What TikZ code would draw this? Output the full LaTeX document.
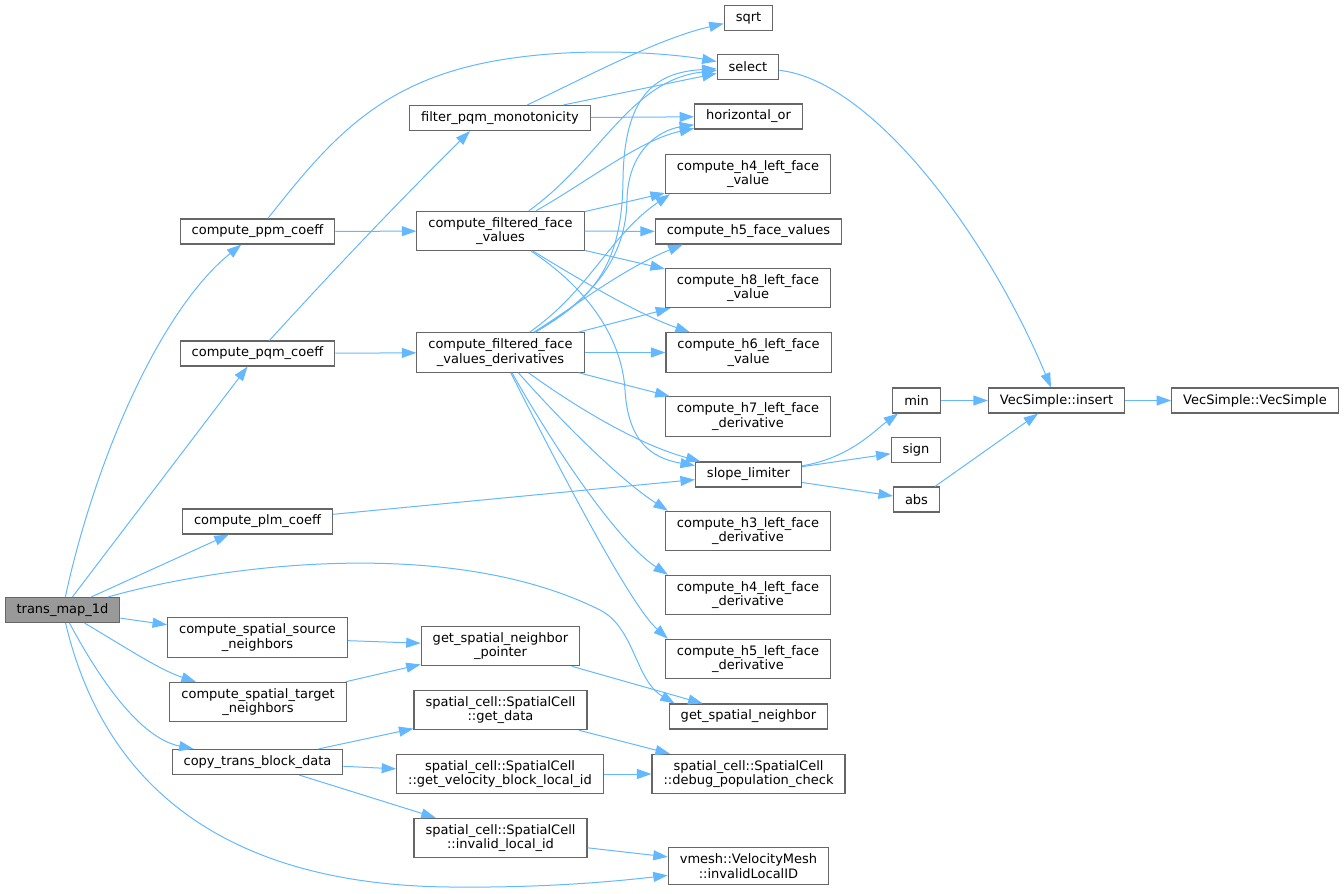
\documentclass[tikz,border=0pt]{standalone}
\usepackage{fontspec}
\setmainfont{DejaVu Sans}
\usetikzlibrary{arrows.meta,positioning,calc}
\definecolor{edgeblue}{HTML}{63B8FF}
\definecolor{boxgray}{HTML}{666666}
\definecolor{rootgray}{HTML}{999999}
\tikzset{
  fn/.style={draw=boxgray, line width=1.1pt, fill=white, font=\fontsize{13pt}{14.5pt}\selectfont,
    inner xsep=11.5pt, inner ysep=6pt, minimum height=25pt, align=center},
  rootfn/.style={fn, fill=rootgray},
  call/.style={edgeblue, line width=1pt, -{Triangle[length=14.5pt,width=10pt]}},
}

\begin{document}
\begin{tikzpicture}[x=1pt,y=-1pt]
    \useasboundingbox (0,0) rectangle (1344,894);

    % Callers
    \node[rootfn] (tm) at (62.5,610) {trans\_map\_1d};
    \node[fn] (ppm) at (257.5,231.5) {compute\_ppm\_coeff};
    \node[fn] (pqm) at (257.5,353.5) {compute\_pqm\_coeff};
    \node[fn] (plm) at (257.5,521.5) {compute\_plm\_coeff};
    \node[fn] (srcn) at (257.5,637.5) {compute\_spatial\_source\\\_neighbors};
    \node[fn] (tgtn) at (258,702) {compute\_spatial\_target\\\_neighbors};
    \node[fn] (copy) at (257.5,762) {copy\_trans\_block\_data};

    % Second column
    \node[fn] (filt) at (500,118) {filter\_pqm\_monotonicity};
    \node[fn] (cffv) at (500.5,231) {compute\_filtered\_face\\\_values};
    \node[fn] (cffvd) at (500.5,352.5) {compute\_filtered\_face\\\_values\_derivatives};
    \node[fn] (gsnp) at (500.5,646) {get\_spatial\_neighbor\\\_pointer};
    \node[fn] (gdata) at (500.5,710) {spatial\_cell::SpatialCell\\::get\_data};
    \node[fn] (gvel) at (500,774) {spatial\_cell::SpatialCell\\::get\_velocity\_block\_local\_id};
    \node[fn] (invid) at (500.5,838) {spatial\_cell::SpatialCell\\::invalid\_local\_id};

    % Third column
    \node[fn] (sqrt) at (748.5,18) {sqrt};
    \node[fn] (select) at (748,67) {select};
    \node[fn] (hor) at (748.5,116.5) {horizontal\_or};
    \node[fn] (h4v) at (748,174) {compute\_h4\_left\_face\\\_value};
    \node[fn] (h5fv) at (748.5,231.5) {compute\_h5\_face\_values};
    \node[fn] (h8v) at (748,288) {compute\_h8\_left\_face\\\_value};
    \node[fn] (h6v) at (748.5,352.5) {compute\_h6\_left\_face\\\_value};
    \node[fn] (h7d) at (748,416.5) {compute\_h7\_left\_face\\\_derivative};
    \node[fn] (slope) at (748.5,474.5) {slope\_limiter};
    \node[fn] (h3d) at (748,531) {compute\_h3\_left\_face\\\_derivative};
    \node[fn] (h4d) at (748,595) {compute\_h4\_left\_face\\\_derivative};
    \node[fn] (h5d) at (748,659) {compute\_h5\_left\_face\\\_derivative};
    \node[fn] (gsn) at (748.5,716.5) {get\_spatial\_neighbor};
    \node[fn] (dbg) at (748.5,774) {spatial\_cell::SpatialCell\\::debug\_population\_check};
    \node[fn] (vmesh) at (748.5,866) {vmesh::VelocityMesh\\::invalidLocalID};

    % Right part
    \node[fn] (min) at (916.5,400.5) {min};
    \node[fn] (sign) at (916,450) {sign};
    \node[fn] (abs) at (916.5,499.5) {abs};
    \node[fn] (ins) at (1056.5,400.5) {VecSimple::insert};
    \node[fn] (vecs) at (1255,400.5) {VecSimple::VecSimple};

    % Calls from trans_map_1d
    \draw[call] (tm) .. controls (95,460) and (160,310) .. (ppm);
    \draw[call] (tm) -- (pqm);
    \draw[call] (tm) -- (plm);
    \draw[call] (tm) .. controls (220,565) and (450,535) .. (600,610)
        .. controls (635,628) and (635,680) .. ([xshift=6pt]gsn.north west);
    \draw[call] (tm) -- (srcn);
    \draw[call] (tm) .. controls (130,650) and (160,670) .. (tgtn);
    \draw[call] (tm) .. controls (100,680) and (140,738) .. (copy);
    \draw[call] (tm) .. controls (105,790) and (230,885) .. (450,887)
        .. controls (540,888) and (610,882) .. (vmesh);

    % First level
    \draw[call] (ppm) .. controls (330,140) and (380,80) .. (500,60)
        .. controls (590,45) and (680,55) .. (select);
    \draw[call] (ppm) -- (cffv);
    \draw[call] (pqm) .. controls (320,285) and (390,210) .. ([xshift=-30pt]filt.south);
    \draw[call] (pqm) -- (cffvd);
    \draw[call] (plm) -- (slope);
    \draw[call] (srcn) -- (gsnp);
    \draw[call] (tgtn) -- (gsnp);
    \draw[call] (copy) -- (gdata);
    \draw[call] (copy) -- (gvel);
    \draw[call] (copy) -- (invid);

    % filter_pqm_monotonicity
    \draw[call] (filt) .. controls (590,75) and (660,38) .. (sqrt);
    \draw[call] (filt) -- (select);
    \draw[call] (filt) -- (hor);

    % compute_filtered_face_values
    \draw[call] (cffv) .. controls (600,160) and (630,80) .. (select);
    \draw[call] (cffv) .. controls (590,180) and (640,140) .. (hor);
    \draw[call] (cffv) -- (h4v);
    \draw[call] (cffv) -- (h5fv);
    \draw[call] (cffv) -- (h8v);
    \draw[call] (cffv) .. controls (580,280) and (640,315) .. (h6v);
    \draw[call] (cffv) .. controls (590,290) and (622,340) .. (625,390)
        .. controls (628,440) and (650,458) .. (slope);

    % compute_filtered_face_values_derivatives
    \draw[call] (cffvd) .. controls (590,300) and (622,270) .. (623,180)
        .. controls (624,90) and (660,72) .. (select);
    \draw[call] (cffvd) .. controls (590,300) and (626,260) .. (627,200)
        .. controls (628,150) and (660,130) .. (hor);
    \draw[call] (cffvd) .. controls (590,290) and (610,235) .. ([xshift=5pt]h4v.south west);
    \draw[call] (cffvd) .. controls (570,310) and (620,270) .. ([xshift=28pt]h5fv.south west);
    \draw[call] (cffvd) -- (h8v);
    \draw[call] (cffvd) -- (h6v);
    \draw[call] (cffvd) -- (h7d);
    \draw[call] (cffvd) .. controls (580,410) and (640,445) .. (slope);
    \draw[call] (cffvd) .. controls (560,420) and (620,480) .. ([xshift=3pt]h3d.north west);
    \draw[call] (cffvd) .. controls (550,440) and (615,540) .. ([xshift=3pt]h4d.north west);
    \draw[call] (cffvd) .. controls (560,470) and (630,605) .. ([xshift=3pt]h5d.north west);

    % Spatial cell helpers
    \draw[call] (gsnp) -- (gsn);
    \draw[call] (gdata) -- (dbg);
    \draw[call] (gvel) -- (dbg);
    \draw[call] (invid) -- (vmesh);

    % slope_limiter and VecSimple
    \draw[call] (slope) .. controls (850,458) and (875,430) .. (min);
    \draw[call] (slope) -- (sign);
    \draw[call] (slope) -- (abs);
    \draw[call] (min) -- (ins);
    \draw[call] (abs) -- (ins);
    \draw[call] (select) .. controls (870,80) and (985,230) .. (ins);
    \draw[call] (ins) -- (vecs);
\end{tikzpicture}
\end{document}
